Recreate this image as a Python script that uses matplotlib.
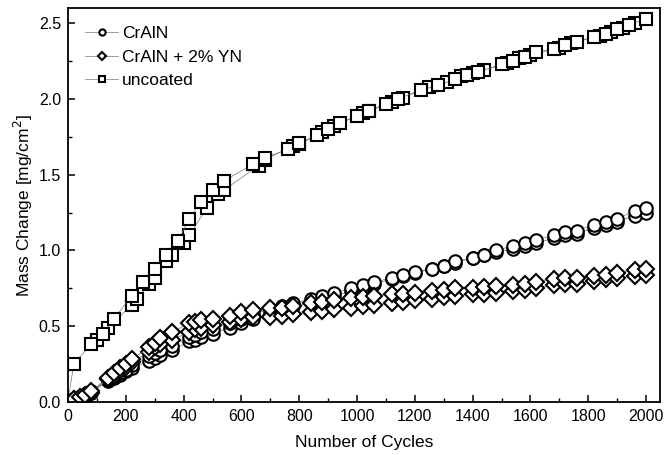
import numpy as np
from matplotlib import pyplot as plt
from matplotlib.ticker import MultipleLocator

plt.rcParams['font.family'] = ['Liberation Sans', 'DejaVu Sans']

# cycles shared by both coated samples
cycles_coated = [0, 20, 40, 60, 80, 140, 160, 180, 200, 220, 280, 300, 320, 360,
                 420, 440, 460, 500, 560, 600, 640, 700, 740, 780, 840, 880, 920,
                 980, 1020, 1060, 1120, 1160, 1200, 1260, 1300, 1340, 1400, 1440,
                 1480, 1540, 1580, 1620, 1680, 1720, 1760, 1820, 1860, 1900, 1960, 2000]

# CrAlN, two samples
crainl_a = [0.0, 0.02, 0.03, 0.05, 0.07, 0.15, 0.17, 0.19, 0.21, 0.24, 0.30, 0.32, 0.34, 0.37,
            0.43, 0.44, 0.46, 0.48, 0.52, 0.55, 0.58, 0.61, 0.63, 0.65, 0.68, 0.70, 0.72,
            0.75, 0.77, 0.79, 0.82, 0.84, 0.86, 0.88, 0.90, 0.93, 0.95, 0.97,
            1.00, 1.03, 1.05, 1.07, 1.10, 1.12, 1.13, 1.17, 1.19, 1.21, 1.26, 1.28]
crainl_b = [0.0, 0.015, 0.025, 0.04, 0.06, 0.14, 0.16, 0.18, 0.20, 0.22, 0.27, 0.29, 0.31, 0.34,
            0.40, 0.41, 0.43, 0.45, 0.49, 0.52, 0.55, 0.59, 0.61, 0.63, 0.66, 0.68, 0.70,
            0.73, 0.75, 0.78, 0.81, 0.83, 0.85, 0.88, 0.90, 0.92, 0.95, 0.97,
            0.99, 1.01, 1.03, 1.05, 1.08, 1.10, 1.11, 1.15, 1.17, 1.19, 1.23, 1.25]

# CrAlN + 2% YN, two samples
yn_a = [0.0, 0.02, 0.03, 0.045, 0.07, 0.16, 0.19, 0.22, 0.25, 0.28, 0.36, 0.39, 0.42, 0.46,
        0.52, 0.53, 0.54, 0.55, 0.57, 0.595, 0.605, 0.62, 0.62, 0.63, 0.65, 0.66, 0.67,
        0.685, 0.69, 0.70, 0.71, 0.715, 0.72, 0.73, 0.74, 0.75, 0.755, 0.76,
        0.765, 0.77, 0.78, 0.79, 0.81, 0.815, 0.82, 0.83, 0.84, 0.85, 0.87, 0.88]
yn_b = [0.0, 0.015, 0.025, 0.04, 0.06, 0.15, 0.17, 0.20, 0.23, 0.26, 0.33, 0.36, 0.38, 0.41,
        0.46, 0.48, 0.49, 0.51, 0.53, 0.55, 0.56, 0.56, 0.57, 0.58, 0.59, 0.60, 0.61,
        0.62, 0.63, 0.64, 0.65, 0.66, 0.67, 0.68, 0.69, 0.70, 0.71, 0.715,
        0.72, 0.73, 0.74, 0.75, 0.77, 0.775, 0.78, 0.80, 0.81, 0.82, 0.83, 0.84]

# uncoated, two samples (own cycle lists)
cycles_unc_a = [0, 20, 80, 120, 160, 220, 260, 300, 340, 380, 420, 460, 500, 540,
                640, 680, 760, 800, 860, 900, 940, 1000, 1040, 1100, 1140, 1220, 1280,
                1340, 1380, 1420, 1500, 1540, 1580, 1620, 1680, 1720, 1760, 1820, 1860,
                1900, 1940, 2000]
unc_a = [0.0, 0.25, 0.38, 0.45, 0.55, 0.70, 0.79, 0.88, 0.97, 1.06, 1.21, 1.32, 1.40, 1.46,
         1.57, 1.61, 1.67, 1.71, 1.76, 1.80, 1.84, 1.89, 1.92, 1.97, 2.00, 2.06, 2.09,
         2.13, 2.16, 2.18, 2.23, 2.25, 2.28, 2.31, 2.33, 2.36, 2.38, 2.41, 2.43,
         2.46, 2.49, 2.53]
cycles_unc_b = [100, 140, 220, 240, 280, 300, 340, 360, 400, 420, 480, 520, 540,
                660, 680, 780, 800, 880, 920, 1020, 1040, 1120, 1160, 1250, 1310,
                1360, 1400, 1440, 1520, 1560, 1600, 1700, 1740, 1840, 1880, 1920, 1960]
unc_b = [0.41, 0.49, 0.64, 0.68, 0.78, 0.82, 0.93, 0.97, 1.05, 1.10, 1.28, 1.37, 1.40,
         1.56, 1.60, 1.69, 1.70, 1.78, 1.82, 1.91, 1.92, 1.98, 2.01, 2.08, 2.11,
         2.15, 2.17, 2.19, 2.24, 2.27, 2.29, 2.34, 2.37, 2.42, 2.44, 2.47, 2.50]

fig = plt.figure(figsize=(6.71, 4.55), dpi=100)
ax = fig.add_axes([0.1013, 0.117, 0.8823, 0.8648])

line_kw = dict(color='#777777', linewidth=0.5, markerfacecolor='white',
               markeredgecolor='black', markeredgewidth=1.5)

ax.plot(cycles_unc_b, unc_b, marker='s', markersize=9, label='_nolegend_', **line_kw)
ax.plot(cycles_unc_a, unc_a, marker='s', markersize=9, label='uncoated', **line_kw)
ax.plot(cycles_coated, crainl_b, marker='o', markersize=9, label='_nolegend_', **line_kw)
ax.plot(cycles_coated, crainl_a, marker='o', markersize=9, label='CrAlN', **line_kw)
ax.plot(cycles_coated, yn_b, marker='D', markersize=8.5, label='_nolegend_', **line_kw)
ax.plot(cycles_coated, yn_a, marker='D', markersize=8.5, label='CrAlN + 2% YN', **line_kw)

ax.set_xlim(0, 2048)
ax.set_ylim(0, 2.6)
ax.xaxis.set_major_locator(MultipleLocator(200))
ax.xaxis.set_minor_locator(MultipleLocator(100))
ax.yaxis.set_major_locator(MultipleLocator(0.5))
ax.yaxis.set_minor_locator(MultipleLocator(0.25))
ax.yaxis.set_major_formatter(plt.FormatStrFormatter('%.1f'))
ax.tick_params(which='major', direction='in', length=5, width=1.1, labelsize=11.5, pad=5)
ax.tick_params(which='minor', direction='in', length=3, width=1.0)
for sp in ax.spines.values():
    sp.set_linewidth(1.3)

ax.set_xlabel('Number of Cycles', fontsize=12.5, labelpad=8)
ax.set_ylabel('Mass Change [mg/cm$^2$]', fontsize=12.5, labelpad=3)

handles, labels = ax.get_legend_handles_labels()
order = [labels.index('CrAlN'), labels.index('CrAlN + 2% YN'), labels.index('uncoated')]
ax.legend([handles[i] for i in order], [labels[i] for i in order], loc='upper left',
          frameon=False, fontsize=12.5, markerscale=0.5, handlelength=1.9,
          handletextpad=0.2, labelspacing=0.5, borderaxespad=0.6)

fig.savefig('out.png', dpi=100)
